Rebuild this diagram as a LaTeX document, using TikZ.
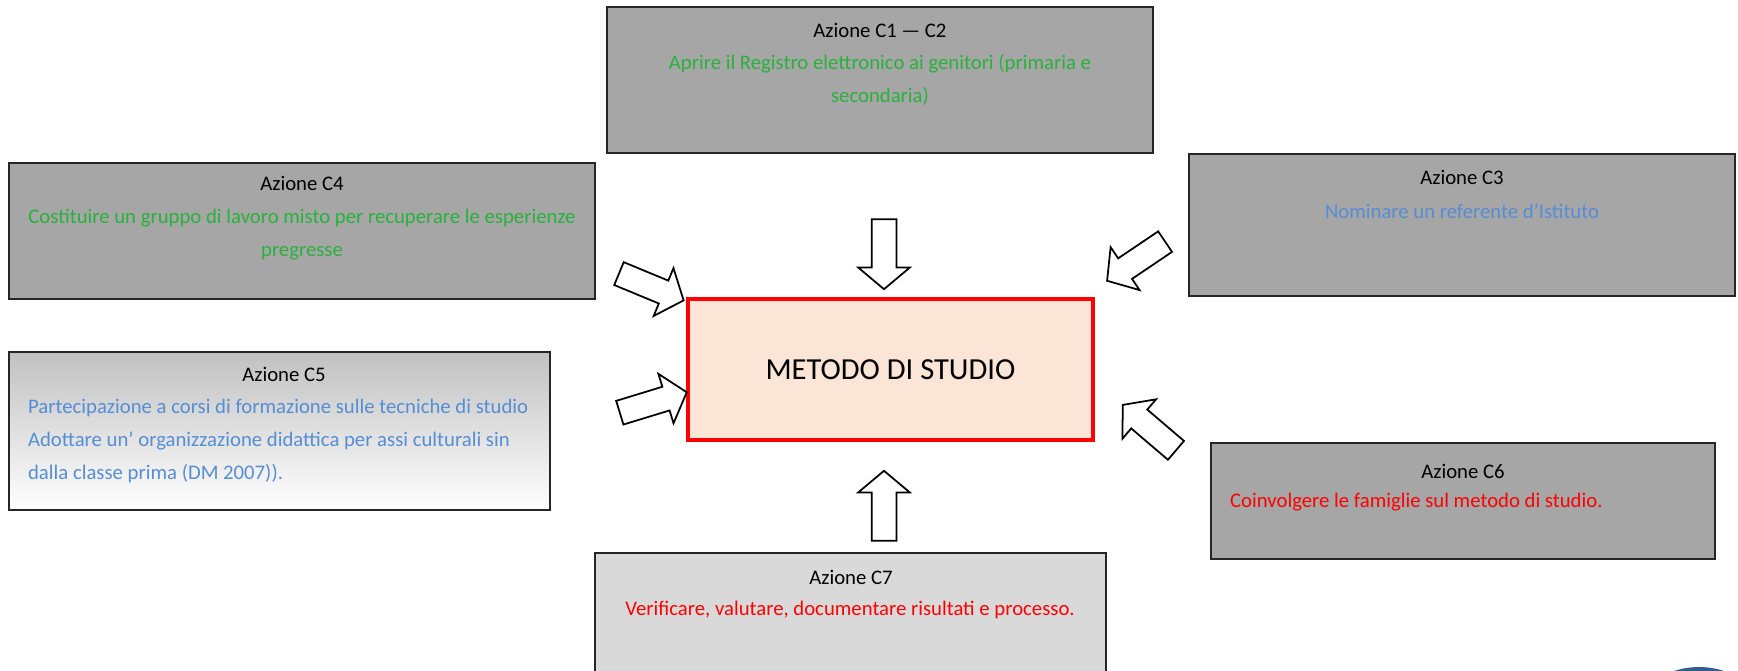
\documentclass[tikz,border=0pt]{standalone}
\usepackage{fontspec}
\setmainfont{Carlito}
\usepackage{tikz}
\usetikzlibrary{shapes.arrows}

\definecolor{boxgray}{RGB}{166,166,166}
\definecolor{palegray}{RGB}{217,217,217}
\definecolor{peach}{RGB}{251,229,214}
\definecolor{txtgreen}{RGB}{40,178,60}
\definecolor{txtblue}{RGB}{85,142,213}
\definecolor{sealblue}{RGB}{47,93,145}

\begin{document}
\begin{tikzpicture}[x=0.02cm, y=-0.02cm,
  box/.style={draw=black!85, line width=1.1pt, fill=boxgray, inner sep=0pt},
  hd/.style={font=\fontsize{11.8}{18.7}\selectfont, inner sep=1pt},
  txt/.style={hd, align=center},
  centre/.style={draw=red, line width=2.3pt, fill=peach, inner sep=0pt},
  bigarr/.style={draw, line width=1pt, fill=white, single arrow, minimum height=1.4cm,
    minimum width=1.0cm, single arrow head extend=0.27cm, single arrow tip angle=100, inner sep=0.23cm}]
\useasboundingbox (0,0) rectangle (1738,671);
\clip (0,0) rectangle (1738,671);

\node[box, minimum width=10.92cm, minimum height=2.92cm] (c12) at (880,80) {};
\node[hd] (c12h) at (880,30) {Azione C1 — C2};
\node[txt, text=txtgreen] (c12b) at (880,80) {Aprire il Registro elettronico ai genitori (primaria e\\secondaria)};

\node[box, minimum width=11.72cm, minimum height=2.72cm] (c4) at (302,231) {};
\node[hd] (c4h) at (302,183) {Azione C4};
\node[txt, text=txtgreen] (c4b) at (302,235) {Costituire un gruppo di lavoro misto per recuperare le esperienze\\pregresse};

\node[box, minimum width=10.94cm, minimum height=2.84cm] (c3) at (1462,225) {};
\node[hd] (c3h) at (1462,177) {Azione C3};
\node[txt, text=txtblue] (c3b) at (1462,211) {Nominare un referente d’Istituto};

\node[box, top color=boxgray!70, bottom color=white, minimum width=10.82cm, minimum height=3.16cm] (c5) at (279.5,431) {};
\node[hd] (c5h) at (284,374) {Azione C5};
\node[hd, align=left, anchor=west, text=txtblue] (c5b) at (26,441) {Partecipazione a corsi di formazione sulle tecniche di studio\\Adottare un' organizzazione didattica per assi culturali sin\\dalla classe prima (DM 2007)).};

\node[box, minimum width=10.08cm, minimum height=2.32cm] (c6) at (1463,501) {};
\node[hd] (c6h) at (1463,471) {Azione C6};
\node[hd, anchor=west, text=red] (c6b) at (1228,502) {Coinvolgere le famiglie sul metodo di studio.};

\node[box, fill=palegray, minimum width=10.22cm, minimum height=3.28cm] (c7) at (850.5,635) {};
\node[hd] (c7h) at (851,577) {Azione C7};
\node[txt, text=red] (c7b) at (850,610) {Verificare, valutare, documentare risultati e processo.};

\node[centre, minimum width=8.1cm, minimum height=2.82cm, font=\fontsize{17.4}{20}\selectfont] (ms) at (890.5,369.5) {METODO DI STUDIO};

\node[bigarr, rotate=-90] (a12) at (884,249) {};
\node[bigarr, rotate=90] (a7) at (884,511) {};
\node[bigarr, rotate=-22.5] (a4) at (646.5,285) {};
\node[bigarr, rotate=17] (a5) at (648.3,404) {};
\node[bigarr, rotate=-146] (a3) at (1140.4,258.3) {};
\node[bigarr, rotate=139.5] (a6) at (1153.3,431) {};

\fill[sealblue] (1699,747) circle[radius=1.6cm];
\end{tikzpicture}
\end{document}
